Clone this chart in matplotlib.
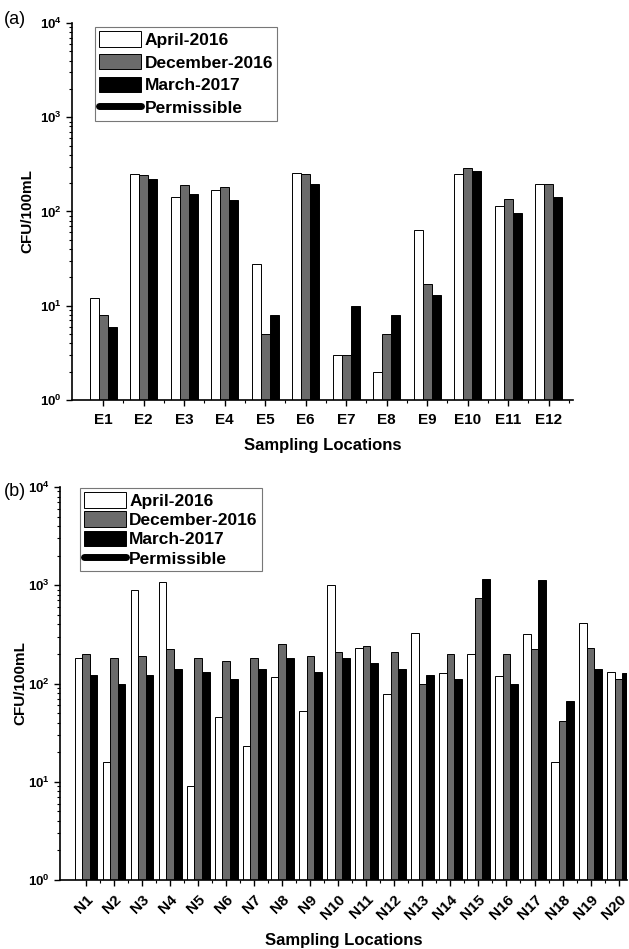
import matplotlib
matplotlib.use("Agg")
import matplotlib.pyplot as plt
from matplotlib.lines import Line2D
from matplotlib.ticker import LogLocator, NullFormatter, FixedLocator
import numpy as np

plt.rcParams['font.family'] = ['Liberation Sans', 'DejaVu Sans']
plt.rcParams['font.weight'] = 'bold'

# Panel (a) data
e_sites = ['E1', 'E2', 'E3', 'E4', 'E5', 'E6', 'E7', 'E8', 'E9', 'E10', 'E11', 'E12']
e_apr2016 = [12, 252, 144, 170, 28, 257, 3, 2, 63, 252, 113, 197]
e_dec2016 = [8, 243, 192, 183, 5, 247, 3, 5, 17, 286, 137, 195]
e_mar2017 = [6, 222, 153, 133, 8, 195, 10, 8, 13, 266, 97, 143]

# Panel (b) data
n_sites = ['N1', 'N2', 'N3', 'N4', 'N5', 'N6', 'N7', 'N8', 'N9', 'N10',
           'N11', 'N12', 'N13', 'N14', 'N15', 'N16', 'N17', 'N18', 'N19', 'N20']
n_apr2016 = [181, 16, 903, 1081, 9, 46, 23, 116, 53, 1016,
             231, 78, 325, 128, 199, 118, 318, 16, 414, 130]
n_dec2016 = [200, 181, 191, 222, 181, 170, 181, 251, 191, 210,
             240, 210, 100, 200, 738, 200, 222, 42, 231, 110]
n_mar2017 = [121, 100, 121, 141, 130, 110, 141, 181, 130, 181,
             160, 141, 121, 110, 1170, 100, 1143, 66, 141, 128]

series_labels = ['April-2016', 'December-2016', 'March-2017']
series_colors = ['white', '#6b6b6b', 'black']
permissible_label = 'Permissible'

fig = plt.figure(figsize=(6.29, 9.49), dpi=100)
W, H = 629, 949

def make_ax(l, r, t, b):
    return fig.add_axes([l / W, 1 - b / H, (r - l) / W, (b - t) / H])

ax1 = make_ax(72, 573, 23, 400)
ax2 = make_ax(60, 627, 487, 880)

def draw(ax, sites, series, bw, xlim, rot, leg_anchor, lsp):
    x = np.arange(len(sites))
    for k, (vals, lab, col) in enumerate(zip(series, series_labels, series_colors)):
        ax.bar(x + (k - 1) * bw, vals, width=bw, color=col, edgecolor='black',
               linewidth=0.7, label=lab, zorder=2)
    ax.set_yscale('log')
    ax.set_ylim(1, 1e4)
    ax.set_xlim(*xlim)
    ax.set_xticks(x)
    if rot:
        ax.set_xticklabels(sites, rotation=45, ha='right', rotation_mode='anchor',
                           fontsize=11, fontweight='bold')
    else:
        ax.set_xticklabels(sites, fontsize=11, fontweight='bold')
    ax.xaxis.set_minor_locator(FixedLocator(x + 0.5))
    ax.yaxis.set_major_locator(LogLocator(base=10, numticks=10))
    ax.yaxis.set_minor_locator(LogLocator(base=10, subs=np.arange(2, 10), numticks=20))
    ax.yaxis.set_minor_formatter(NullFormatter())
    ax.tick_params(axis='both', which='major', direction='out', length=4, width=1.0,
                   labelsize=9.5)
    ax.tick_params(axis='x', which='major', labelsize=11, pad=5)
    ax.tick_params(axis='both', which='minor', direction='out', length=2.5, width=0.8)
    for lbl in ax.get_yticklabels():
        lbl.set_fontweight('bold')
    ax.spines['top'].set_visible(False)
    ax.spines['right'].set_visible(False)
    ax.spines['left'].set_linewidth(1.2)
    ax.spines['bottom'].set_linewidth(1.2)
    ax.set_ylabel('CFU/100mL', fontsize=11, fontweight='bold')
    ax.set_xlabel('Sampling Locations', fontsize=12, fontweight='bold', labelpad=8)
    handles, labels = ax.get_legend_handles_labels()
    handles.append(Line2D([], [], color='black', lw=5, solid_capstyle='round'))
    labels.append(permissible_label)
    leg = ax.legend(handles, labels, loc='upper left', bbox_to_anchor=leg_anchor,
                    fancybox=False, edgecolor='#777777', framealpha=1,
                    prop={'weight': 'bold', 'size': 12.5}, handlelength=2.4,
                    handleheight=1.0, labelspacing=lsp, handletextpad=0.2,
                    borderpad=0.25, borderaxespad=0)
    leg.get_frame().set_linewidth(0.8)

draw(ax1, e_sites, [e_apr2016, e_dec2016, e_mar2017], 0.22, (-0.77, 11.6), False,
     (0.046, 0.99), 0.35)
draw(ax2, n_sites, [n_apr2016, n_dec2016, n_mar2017], 0.27, (-0.93, 19.3), True,
     (0.035, 0.998), 0.15)

ax1.yaxis.set_label_coords(-0.075, 0.5)
ax2.yaxis.set_label_coords(-0.058, 0.5)

fig.text(4 / W, 1 - 19 / H, '(a)', fontsize=13, fontweight='normal', va='center')
fig.text(4 / W, 1 - 492 / H, '(b)', fontsize=13, fontweight='normal', va='center')

fig.savefig('out.png', dpi=100)
